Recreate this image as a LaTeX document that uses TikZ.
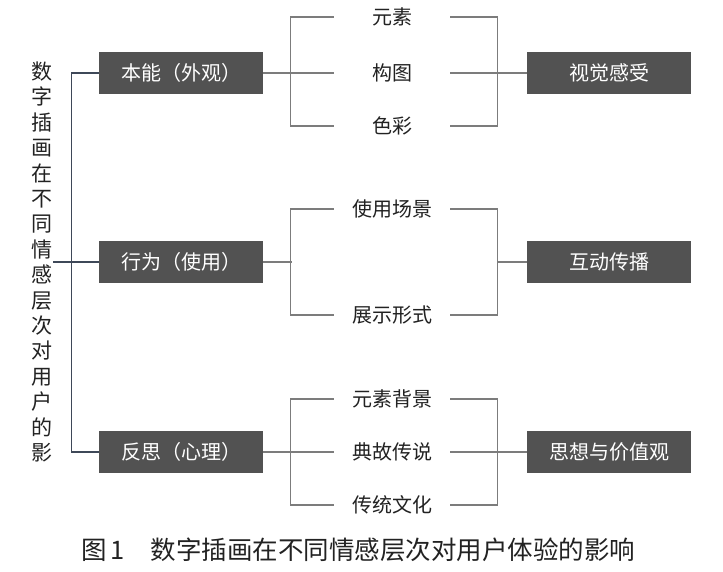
\documentclass[tikz,border=0pt]{standalone}
\usepackage{fontspec}
\setmainfont{Noto Sans CJK SC}
\newfontfamily\cjk{Noto Sans CJK SC}
\definecolor{boxfill}{HTML}{525252}
\definecolor{brline}{HTML}{7C7C7C}
\definecolor{treeline}{HTML}{3E4858}
\definecolor{txt}{HTML}{222222}
\begin{document}
\begin{tikzpicture}[x=1pt,y=-1pt,
  darkbox/.style={fill=boxfill,text=white,minimum width=164pt,minimum height=42pt,inner sep=0pt,font=\cjk\fontsize{20}{22}\selectfont},
  mid/.style={minimum width=116pt,inner sep=0pt,text=txt,font=\cjk\fontsize{20}{22}\selectfont},
  br/.style={draw=brline,line width=1.3pt},
  tree/.style={draw=treeline,line width=1.3pt}]
\useasboundingbox (0,0) rectangle (723,571);
\fill[white] (0,0) rectangle (723,571);
% left boxes
\node[darkbox] (b1) at (181,73) {本能（外观）};
\node[darkbox] (b2) at (181,262) {行为（使用）};
\node[darkbox] (b3) at (181,452) {反思（心理）};
% right boxes
\node[darkbox] (r1) at (609,73) {视觉感受};
\node[darkbox] (r2) at (609,262) {互动传播};
\node[darkbox] (r3) at (609,452) {思想与价值观};
% middle texts
\node[mid] (m11) at (392,17) {元素};
\node[mid] (m12) at (392,73) {构图};
\node[mid] (m13) at (392,126) {色彩};
\node[mid] (m21) at (392,209) {使用场景};
\node[mid] (m22) at (392,315) {展示形式};
\node[mid] (m31) at (392,399) {元素背景};
\node[mid] (m32) at (392,452) {典故传说};
\node[mid] (m33) at (392,505) {传统文化};
% title
\node[text=txt,align=center,inner sep=0pt,font=\cjk\fontsize{21}{25.4}\selectfont] (title) at (42,262)
 {数\\字\\插\\画\\在\\不\\同\\情\\感\\层\\次\\对\\用\\户\\的\\影};
\coordinate (tl) at (53,262);
% left tree
\draw[tree] (b1.west) -- ++(-27,0) |- (b3.west);
\draw[tree] (tl) -- (b2.west);
% group 1
\draw[br] (b1.east) -- (m12.west);
\draw[br] (m11.west) -- ++(-43,0) |- (m13.west);
\draw[br] (m11.east) -- ++(47,0) |- (m13.east);
\draw[br] (m12.east) -- (r1.west);
% group 2
\draw[br] (b2.east) -- ++(29,0);
\draw[br] (m21.west) -- ++(-43,0) |- (m22.west);
\draw[br] (m21.east) -- ++(47,0) |- (m22.east);
\draw[br] (r2.west) -- ++(-30,0);
% group 3
\draw[br] (b3.east) -- (m32.west);
\draw[br] (m31.west) -- ++(-43,0) |- (m33.west);
\draw[br] (m31.east) -- ++(47,0) |- (m33.east);
\draw[br] (m32.east) -- (r3.west);
% caption
\node[text=txt,inner sep=0pt,anchor=west,font=\cjk\fontsize{25.5}{28}\selectfont] (cap) at (81,550) {图\,1\quad 数字插画在不同情感层次对用户体验的影响};
\end{tikzpicture}
\end{document}
